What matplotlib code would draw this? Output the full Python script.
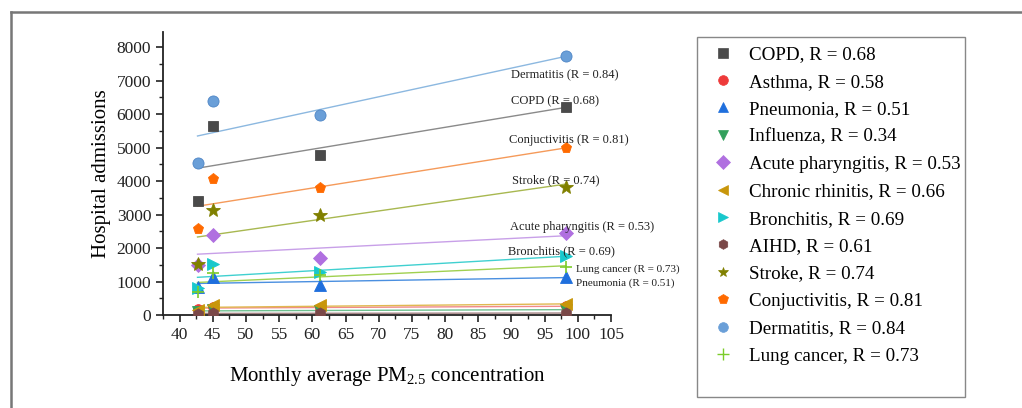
import numpy as np
import matplotlib
matplotlib.use("Agg")
import matplotlib.pyplot as plt
from matplotlib.lines import Line2D
from matplotlib.patches import Rectangle

plt.rcParams['font.family'] = ['Liberation Serif', 'DejaVu Serif']
plt.rcParams['mathtext.fontset'] = 'custom'
plt.rcParams['mathtext.rm'] = 'Liberation Serif'
plt.rcParams['mathtext.it'] = 'Liberation Serif:italic'

# ---- data ----
pm25 = [42.7, 45.0, 61.2, 98.2]
diseases = ["COPD", "Asthma", "Pneumonia", "Influenza", "Acute pharyngitis",
            "Chronic rhinitis", "Bronchitis", "AIHD", "Stroke", "Conjuctivitis",
            "Dermatitis", "Lung cancer"]
r_values = [0.68, 0.58, 0.51, 0.34, 0.53, 0.66, 0.69, 0.61, 0.74, 0.81, 0.84, 0.73]
copd = [3400, 5630, 4780, 6220]
asthma = [170, 250, 220, 260]
pneumonia = [845, 1125, 895, 1145]
influenza = [100, 150, 130, 160]
acute_pharyngitis = [1480, 2390, 1710, 2440]
chronic_rhinitis = [150, 290, 290, 320]
bronchitis = [815, 1520, 1270, 1760]
aihd = [40, 50, 60, 55]
stroke = [1510, 3150, 3000, 3830]
conjuctivitis = [2570, 4060, 3780, 4975]
dermatitis = [4550, 6390, 5970, 7740]
lung_cancer = [695, 1240, 1200, 1440]
series = [copd, asthma, pneumonia, influenza, acute_pharyngitis, chronic_rhinitis,
          bronchitis, aihd, stroke, conjuctivitis, dermatitis, lung_cancer]

# annotated fits: (disease, x, y, fontsize)
annotations = [("Dermatitis", 89.9, 7160, 9), ("COPD", 89.9, 6390, 9),
               ("Conjuctivitis", 89.6, 5220, 9), ("Stroke", 90.1, 4030, 9),
               ("Acute pharyngitis", 89.8, 2630, 9), ("Bronchitis", 89.5, 1910, 9),
               ("Lung cancer", 99.7, 1370, 8), ("Pneumonia", 99.8, 955, 8)]

markers = ['s', 'o', '^', 'v', 'D', '<', '>', 'h', '*', 'p', 'o', '+']
mcolors = ['#4a4a4a', '#ee3a3a', '#1f6fdd', '#33a05c', '#b070e0', '#c8960a',
           '#18c8cc', '#7a4848', '#808000', '#ff6a00', '#6a9fd8', '#7ccc2a']
lcolors = ['#8a8a8a', '#f08a8a', '#4a8fe0', '#70c090', '#c8a0e8', '#e0b850',
           '#40d0d0', '#a08080', '#a8b850', '#f59a5a', '#8cb8e0', '#a0d050']
msizes = [7, 7, 8, 8, 7, 8, 8, 8, 10, 8, 8, 9]

fig = plt.figure(figsize=(10.22, 4.08), dpi=100)
ax = fig.add_axes([163/1022, 1-315/408, 448/1022, 283/408])

x = np.array(pm25)
xs = np.array([min(pm25), max(pm25)])
for i, ys in enumerate(series):
    k, b = np.polyfit(x, np.array(ys), 1)
    ax.plot(xs, k*xs + b, color=lcolors[i], lw=1.0, zorder=2)
for i, ys in enumerate(series):
    if markers[i] == '+':
        ax.plot(pm25, ys, linestyle='none', marker='+', color=mcolors[i],
                ms=msizes[i], mew=1.2, zorder=3)
    else:
        ax.plot(pm25, ys, linestyle='none', marker=markers[i], color=mcolors[i],
                ms=msizes[i], mec=mcolors[i] if i != 10 else '#4f86c6', mew=0.6, zorder=3)

for name, tx, ty, fs in annotations:
    r = r_values[diseases.index(name)]
    ax.text(tx, ty, f"{name} (R = {r:.2f})", fontsize=fs, ha='left', va='center',
            color='#222222', zorder=4)

ax.set_xlim(37.5, 105)
ax.set_ylim(0, 8450)
ax.set_xticks(np.arange(40, 106, 5))
ax.set_xticks(np.arange(37.5, 105.1, 2.5), minor=True)
ax.set_yticks(np.arange(0, 8001, 1000))
ax.set_yticks(np.arange(0, 8401, 500), minor=True)
ax.spines['top'].set_visible(False)
ax.spines['right'].set_visible(False)
for s in ['left', 'bottom']:
    ax.spines[s].set_linewidth(1.3)
    ax.spines[s].set_color('#222222')
ax.tick_params(which='major', direction='out', length=5, width=1.2, labelsize=12.5,
               colors='#222222')
ax.tick_params(which='minor', direction='out', length=3, width=1.0, colors='#222222')
ax.set_xlabel("Monthly average PM$_{2.5}$ concentration", fontsize=15, labelpad=16)
ax.set_ylabel("Hospital admissions", fontsize=15, labelpad=4)

handles = []
for i, name in enumerate(diseases):
    handles.append(Line2D([], [], linestyle='none', marker=markers[i], color=mcolors[i],
                          ms=7 if markers[i] != '+' else 9, mew=1.0 if markers[i] == '+' else 0.5,
                          label=f"{name}, R = {r_values[i]:.2f}"))
leg = fig.legend(handles=handles, loc='upper left',
                 bbox_to_anchor=(712/1022, 1-46/408), bbox_transform=fig.transFigure,
                 borderaxespad=0, fontsize=13.7, frameon=False,
                 labelspacing=0.53, handlelength=1.2, handletextpad=0.74,
                 borderpad=0)

# legend frame
fig.add_artist(Rectangle((697/1022, 1-397/408), (965-697)/1022, (397-37)/408,
                         transform=fig.transFigure, fill=False,
                         edgecolor='#888888', lw=1.0))

# outer frame lines
fig.add_artist(Line2D([11/1022, 11/1022], [0, 1-12/408], transform=fig.transFigure,
                      color='#777777', lw=1.8))
fig.add_artist(Line2D([11/1022, 1], [1-12/408, 1-12/408], transform=fig.transFigure,
                      color='#777777', lw=1.8))

fig.savefig("out.png", dpi=100)
